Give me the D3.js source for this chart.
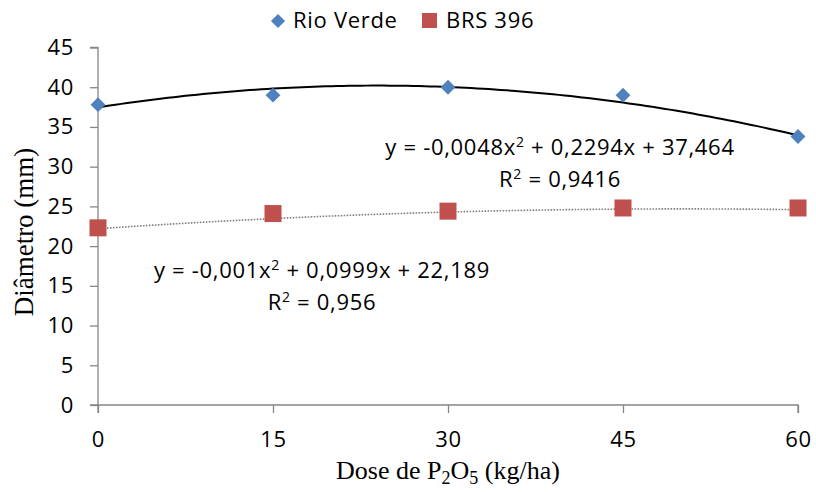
<!DOCTYPE html>
<html lang="pt">
<head>
<meta charset="utf-8">
<script src="https://d3js.org/d3.v7.min.js"></script>
<style>
  body { margin: 0; background: #fff; }
  svg text { fill: #000; }
</style>
</head>
<body>
<svg width="816" height="492"></svg>
<script>
// data
var doses = [0, 15, 30, 45, 60];
var rioVerde = [37.8, 39.0, 40.0, 39.0, 33.8];
var brs396 = [22.3, 24.1, 24.4, 24.8, 24.8];
var yTicks = [0, 5, 10, 15, 20, 25, 30, 35, 40, 45];
// trendline coefficients [a, b, c] for y = a x^2 + b x + c
var rioCoef = [-0.0048, 0.2294, 37.464];
var brsCoef = [-0.001, 0.0999, 22.189];

var svg = d3.select("svg");
var sans = "'Open Sans', Lato, sans-serif";
var serif = "'Liberation Serif', 'Times New Roman', serif";
var fs = "22px", ls = "0.7px";

var x = d3.scaleLinear().domain([0, 60]).range([98, 798]);
var y = d3.scaleLinear().domain([0, 45]).range([405, 47.5]);

// axes
var xAxis = svg.append("g")
    .attr("transform", "translate(0,405)")
    .call(d3.axisBottom(x).tickValues(doses).tickSize(8).tickPadding(18));
var yAxis = svg.append("g")
    .attr("transform", "translate(98,0)")
    .call(d3.axisLeft(y).tickValues(yTicks).tickSize(8).tickPadding(16));

[xAxis, yAxis].forEach(function(a) {
  a.selectAll("path").attr("stroke", "#868686").attr("stroke-width", 1.3);
  a.selectAll("line").attr("stroke", "#868686").attr("stroke-width", 1.3);
  a.selectAll("text").style("font-family", sans).style("font-size", fs)
    .style("letter-spacing", ls).attr("fill", "#000");
});
// outer ticks at both ends, like the original
xAxis.select("path").attr("d", "M98,8V0H798V8");
yAxis.select("path").attr("d", "M-8,47.5H0V405H-8");

// trendlines
function poly(c) { return function(v) { return c[0] * v * v + c[1] * v + c[2]; }; }
var xs = d3.range(0, 60.01, 0.5);
var line = d3.line().x(function(d) { return x(d[0]); }).y(function(d) { return y(d[1]); });

svg.append("path")
    .datum(xs.map(function(v) { return [v, poly(brsCoef)(v)]; }))
    .attr("d", line)
    .attr("fill", "none")
    .attr("stroke", "#808080")
    .attr("stroke-width", 1.6)
    .attr("stroke-dasharray", "1.6,1.4");

svg.append("path")
    .datum(xs.map(function(v) { return [v, poly(rioCoef)(v)]; }))
    .attr("d", line)
    .attr("fill", "none")
    .attr("stroke", "#000")
    .attr("stroke-width", 2);

// markers
var diamond = d3.symbol().type(d3.symbolSquare).size(110);
svg.append("g").selectAll("path")
    .data(doses)
    .enter().append("path")
    .attr("d", diamond)
    .attr("transform", function(d, i) { return "translate(" + x(d) + "," + y(rioVerde[i]) + ") rotate(45)"; })
    .attr("fill", "#4F81BD");

svg.append("g").selectAll("rect")
    .data(doses)
    .enter().append("rect")
    .attr("x", function(d) { return x(d) - 8.5; })
    .attr("y", function(d, i) { return y(brs396[i]) - 8.5; })
    .attr("width", 17)
    .attr("height", 17)
    .attr("fill", "#C0504D");

// equations
function eq(cx, cy, parts) {
  var t = svg.append("text")
      .attr("x", cx).attr("y", cy)
      .attr("text-anchor", "middle")
      .style("font-family", sans).style("font-size", fs).style("letter-spacing", ls);
  parts.forEach(function(p) {
    if (p.sup) t.append("tspan").attr("dy", -8).style("font-size", "14px").text(p.sup);
    else t.append("tspan").attr("dy", p.after ? 8 : 0).text(p.t);
  });
}
eq(560, 155, [{t: "y = -0,0048x"}, {sup: "2"}, {t: " + 0,2294x + 37,464", after: true}]);
eq(560, 187, [{t: "R"}, {sup: "2"}, {t: " = 0,9416", after: true}]);
eq(322, 278, [{t: "y = -0,001x"}, {sup: "2"}, {t: " + 0,0999x + 22,189", after: true}]);
eq(322, 310, [{t: "R"}, {sup: "2"}, {t: " = 0,956", after: true}]);

// axis titles
svg.append("text")
    .attr("transform", "translate(33,232) rotate(-90)")
    .attr("text-anchor", "middle")
    .style("font-family", serif).style("font-size", "27px")
    .text("Diâmetro (mm)");

var xt = svg.append("text")
    .attr("x", 448).attr("y", 479)
    .attr("text-anchor", "middle")
    .style("font-family", serif).style("font-size", "26px");
xt.append("tspan").text("Dose de P");
xt.append("tspan").attr("dy", 5).style("font-size", "18px").text("2");
xt.append("tspan").attr("dy", -5).text("O");
xt.append("tspan").attr("dy", 5).style("font-size", "18px").text("5");
xt.append("tspan").attr("dy", -5).text(" (kg/ha)");

// legend
var leg = svg.append("g");
leg.append("path")
    .attr("d", d3.symbol().type(d3.symbolSquare).size(100))
    .attr("transform", "translate(278,21) rotate(45)")
    .attr("fill", "#4F81BD");
leg.append("text").attr("x", 293).attr("y", 28)
    .style("font-family", sans).style("font-size", fs).style("letter-spacing", ls).text("Rio Verde");
leg.append("rect").attr("x", 422).attr("y", 13).attr("width", 15).attr("height", 15)
    .attr("fill", "#C0504D");
leg.append("text").attr("x", 446).attr("y", 28)
    .style("font-family", sans).style("font-size", fs).style("letter-spacing", ls).text("BRS 396");
</script>
</body>
</html>
